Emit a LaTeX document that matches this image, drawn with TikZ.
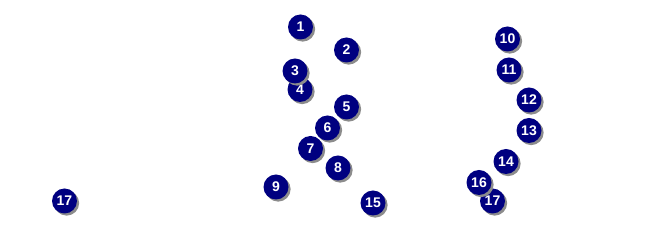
\documentclass[tikz,border=0pt]{standalone}
\usepackage{fontspec}
\setmainfont{Liberation Sans}
\usepackage{xcolor}
\usepackage{tikz}
\usetikzlibrary{shadows}

\definecolor{marknavy}{RGB}{0,0,128}

\begin{document}
\begin{tikzpicture}[x=0.75pt, y=-0.75pt,
  every node/.style={font=\fontsize{10.5}{11}\selectfont\bfseries},
  marker/.style={circle, fill=marknavy, text=white, inner sep=0pt, minimum size=18.75pt,
    drop shadow={shadow xshift=1.6pt, shadow yshift=-1.6pt, fill=black!45, opacity=1}}]
  \useasboundingbox (0,0) rectangle (647,227);
  \node[marker] (m1) at (300.5,27) {1};
  \node[marker] (m2) at (346.5,50) {2};
  \node[marker] (m4) at (300,89.5) {4};
  \node[marker] (m3) at (295,71) {3};
  \node[marker] (m5) at (346.5,107) {5};
  \node[marker] (m6) at (327.5,128) {6};
  \node[marker] (m7) at (310.5,148.5) {7};
  \node[marker] (m8) at (338,168) {8};
  \node[marker] (m9) at (276,187) {9};
  \node[marker] (m15) at (373,203) {15};
  \node[marker] (m10) at (507.5,39) {10};
  \node[marker] (m11) at (509,70) {11};
  \node[marker] (m12) at (529,100) {12};
  \node[marker] (m13) at (529,130.5) {13};
  \node[marker] (m14) at (506,161.5) {14};
  \node[marker] (m17b) at (492.5,201) {17};
  \node[marker] (m16) at (479,182.5) {16};
  \node[marker] (m17a) at (64.5,201) {17};
\end{tikzpicture}
\end{document}
